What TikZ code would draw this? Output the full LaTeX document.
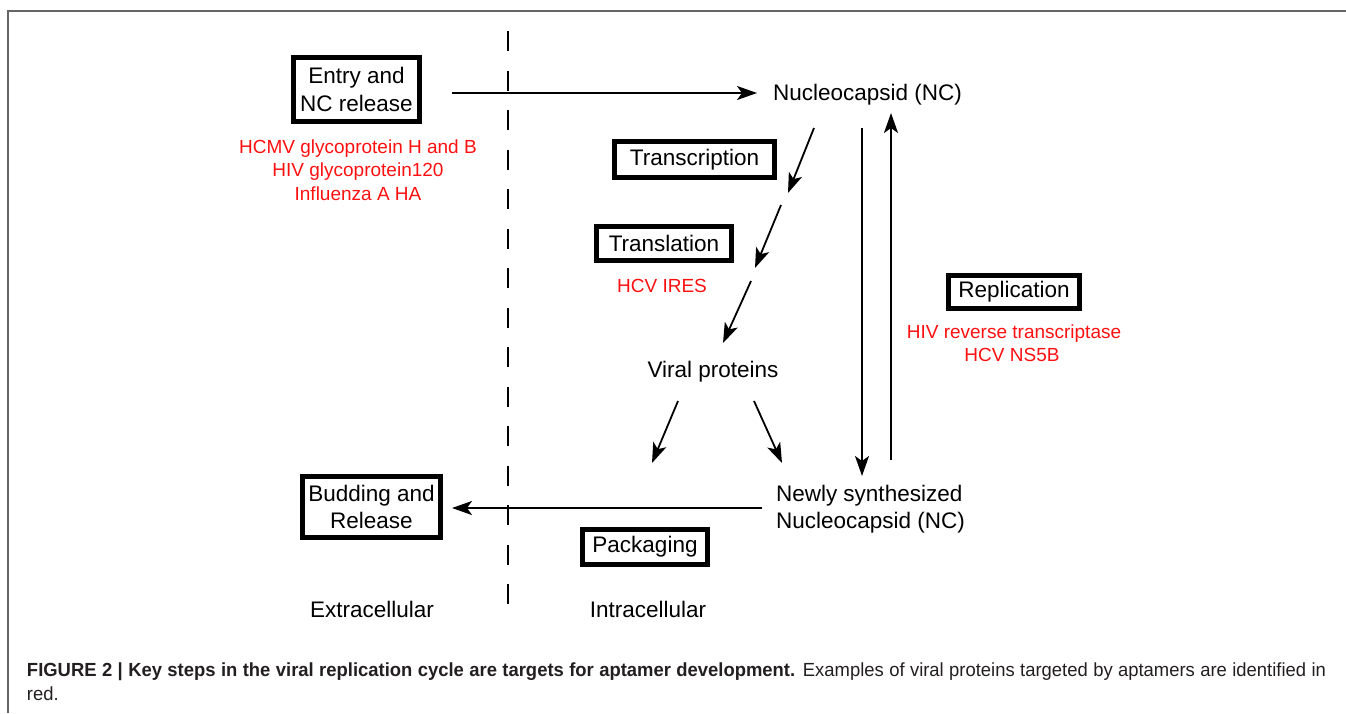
\documentclass[tikz,border=0pt]{standalone}
\usepackage{fontspec}
\setmainfont{Liberation Sans}
\newfontfamily\capfont[FakeStretch=0.97]{Liberation Sans}
\usetikzlibrary{arrows.meta}
\definecolor{capgray}{HTML}{231F20}
\definecolor{framegray}{HTML}{666666}
\definecolor{tred}{HTML}{FF1010}
\newcommand{\bigtxt}{\fontsize{22.5}{27.5}\selectfont}
\newcommand{\redtxt}{\fontsize{19}{23.5}\selectfont}
\begin{document}
\begin{tikzpicture}[x=1pt,y=-1pt,
  stepbox/.style={draw, line width=5pt, inner sep=0pt, outer sep=0pt, align=center, font=\bigtxt},
  lbl/.style={inner sep=0pt, outer sep=0pt, align=center, font=\bigtxt},
  redlbl/.style={inner sep=0pt, outer sep=0pt, align=center, font=\redtxt, text=tred},
  arr/.style={line width=1.8pt, -{Stealth[length=20pt,width=14pt,inset=5pt]}},
  captxt/.style={anchor=base west, inner sep=0pt, outer sep=0pt, text=capgray, font=\capfont\fontsize{19}{24}\selectfont}
]
\useasboundingbox (0,0) rectangle (1346,713);
% frame
\coordinate (fa) at (8,713);
\coordinate (fb) at (8,10.5);
\coordinate (fc) at (1346,10.5);
\draw[line width=2pt, framegray] (fa) -- (fb) -- (fc);
% membrane
\coordinate (m1) at (508,31);
\coordinate (m2) at (508,610);
\draw[line width=2pt, dash pattern=on 20pt off 19.5pt] (m1) -- (m2);
% boxes
\node[stepbox, minimum width=126pt, minimum height=64pt] (entry) at (356.5,89.5) {Entry and\\NC release};
\node[stepbox, minimum width=160pt, minimum height=36pt] (transc) at (694.5,159.5) {Transcription};
\node[stepbox, minimum width=135pt, minimum height=34pt] (transl) at (664,243.5) {Translation};
\node[stepbox, minimum width=131pt, minimum height=33pt] (repl) at (1014,292) {Replication};
\node[stepbox, minimum width=138pt, minimum height=61pt] (bud) at (371.5,507) {Budding and\\Release};
\node[stepbox, minimum width=125pt, minimum height=35pt] (pack) at (645,547) {Packaging};
% red labels
\node[redlbl, anchor=base] (r1) at (358,153) {HCMV glycoprotein H and B};
\node[redlbl, anchor=base] (r2) at (358,176.5) {HIV glycoprotein120};
\node[redlbl, anchor=base] (r3) at (358,200) {Influenza A HA};
\node[redlbl, anchor=base] (r4) at (662,292) {HCV IRES};
\node[redlbl, anchor=base] (r5) at (1014,338) {HIV reverse transcriptase};
\node[redlbl, anchor=base] (r6) at (1012,361) {HCV NS5B};
% black labels
\node[lbl, anchor=base] (nc) at (867.5,100) {Nucleocapsid (NC)};
\node[lbl, anchor=base] (vp) at (713,377) {Viral proteins};
\node[lbl, anchor=west] (newnc) at (776,509.5) {\begin{tabular}{@{}l@{}}Newly synthesized\\[-0.5pt]Nucleocapsid (NC)\end{tabular}};
\node[lbl, anchor=base] (extra) at (372,617) {Extracellular};
\node[lbl, anchor=base] (intra) at (648,617) {Intracellular};
% connectors
\coordinate (a1s) at (452,93);
\coordinate (a1e) at (757,93);
\draw[arr] (a1s) -- (a1e);
\coordinate (t1s) at (814,128);
\coordinate (t1e) at (788,193);
\coordinate (t2s) at (781,205);
\coordinate (t2e) at (755,268);
\coordinate (t3s) at (751,281);
\coordinate (t3e) at (723,343);
\draw[arr] (t1s) -- (t1e);
\draw[arr] (t2s) -- (t2e);
\draw[arr] (t3s) -- (t3e);
\coordinate (v1s) at (678,401);
\coordinate (v1e) at (652,463);
\coordinate (v2s) at (754,401);
\coordinate (v2e) at (782,463);
\draw[arr] (v1s) -- (v1e);
\draw[arr] (v2s) -- (v2e);
\coordinate (d1s) at (862,128);
\coordinate (d1e) at (862,476);
\draw[arr] (d1s) -- (d1e);
\coordinate (u1s) at (891,460);
\coordinate (u1e) at (891,113);
\draw[arr] (u1s) -- (u1e);
\coordinate (b1s) at (762,508);
\coordinate (b1e) at (452,508);
\draw[arr] (b1s) -- (b1e);
% caption
\node[captxt] (cap1) at (27,676)
  {\hbox to 1299pt{\textbf{FIGURE 2 | Key steps in the viral replication cycle are targets for aptamer development.} Examples of viral proteins targeted by aptamers are identified in}};
\node[captxt] (cap2) at (27,700) {red.};
\end{tikzpicture}
\end{document}
